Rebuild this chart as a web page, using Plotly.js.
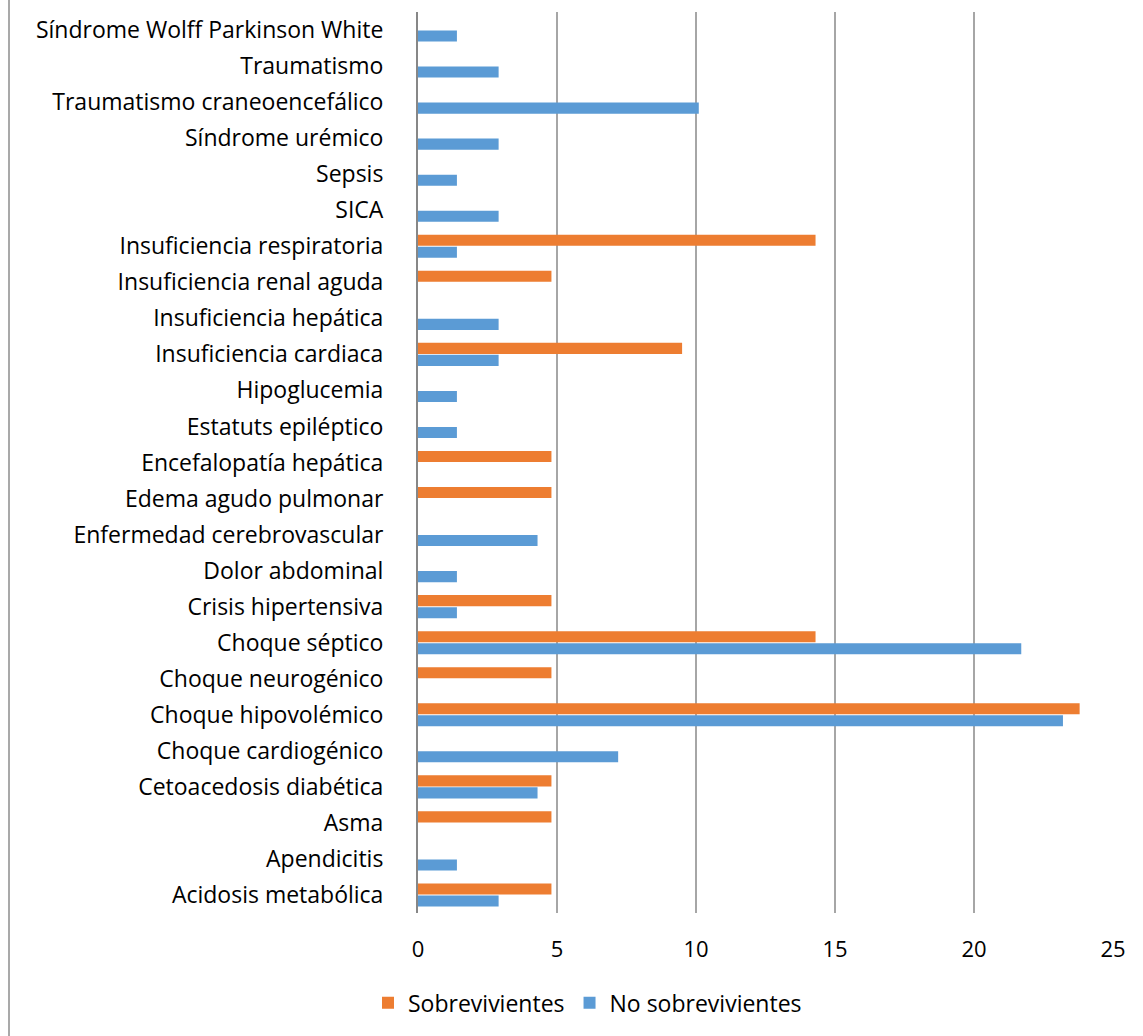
<!DOCTYPE html>
<html>
<head>
<meta charset="utf-8">
<script src="https://cdn.plot.ly/plotly-3.0.1.min.js"></script>
<style>
  html, body { margin: 0; padding: 0; background: #fff; }
  #wrap { position: relative; width: 1143px; height: 1036px; }
  #chart { width: 1143px; height: 1036px; }
  #edge { position: absolute; left: 8px; top: 0; width: 2px; height: 1036px; background: #a9a9a9; }
</style>
</head>
<body>
<div id="wrap">
  <div id="chart"></div>
  <div id="edge"></div>
</div>
<script>
// Categories, bottom to top
const categories = [
  "Acidosis metabólica",
  "Apendicitis",
  "Asma",
  "Cetoacedosis diabética",
  "Choque cardiogénico",
  "Choque hipovolémico",
  "Choque neurogénico",
  "Choque séptico",
  "Crisis hipertensiva",
  "Dolor abdominal",
  "Enfermedad cerebrovascular",
  "Edema agudo pulmonar",
  "Encefalopatía hepática",
  "Estatuts epiléptico",
  "Hipoglucemia",
  "Insuficiencia cardiaca",
  "Insuficiencia hepática",
  "Insuficiencia renal aguda",
  "Insuficiencia respiratoria",
  "SICA",
  "Sepsis",
  "Síndrome urémico",
  "Traumatismo craneoencefálico",
  "Traumatismo",
  "Síndrome Wolff Parkinson White"
];
const sobrevivientes = [4.8, 0, 4.8, 4.8, 0, 23.8, 4.8, 14.3, 4.8, 0, 0, 4.8, 4.8, 0, 0, 9.5, 0, 4.8, 14.3, 0, 0, 0, 0, 0, 0];
const noSobrevivientes = [2.9, 1.4, 0, 4.3, 7.2, 23.2, 0, 21.7, 1.4, 1.4, 4.3, 0, 0, 1.4, 1.4, 2.9, 2.9, 0, 1.4, 2.9, 1.4, 2.9, 10.1, 2.9, 1.4];
const xTicks = [0, 5, 10, 15, 20, 25];

const FONT = "'Open Sans', 'Noto Sans', sans-serif";
const FS = 23;

const traces = [
  {
    type: "bar", orientation: "h", name: "No sobrevivientes",
    y: categories, x: noSobrevivientes,
    marker: { color: "#5B9BD5", line: { width: 0 } },
    legendrank: 2, hoverinfo: "x+y+name"
  },
  {
    type: "bar", orientation: "h", name: "Sobrevivientes",
    y: categories, x: sobrevivientes,
    marker: { color: "#ED7D31", line: { width: 0 } },
    legendrank: 1, hoverinfo: "x+y+name"
  }
];

const layout = {
  width: 1143, height: 1036,
  paper_bgcolor: "#fff", plot_bgcolor: "#fff",
  margin: { l: 418, r: 30, t: 12, b: 123, pad: 0 },
  barmode: "group",
  bargap: 0.333,
  bargroupgap: 0.08,
  font: { family: FONT, size: FS, color: "#000" },
  xaxis: {
    range: [0, 25],
    tickvals: xTicks,
    ticktext: xTicks.map(String),
    showgrid: true, gridcolor: "#a6a6a6", gridwidth: 1.5,
    zeroline: false, showline: false, ticks: "",
    ticklabelstandoff: 21,
    tickfont: { family: FONT, size: 22, color: "#000" },
    fixedrange: true
  },
  yaxis: {
    type: "category",
    categoryorder: "array", categoryarray: categories,
    showgrid: false, zeroline: false,
    showline: true, linecolor: "#878787", linewidth: 2,
    ticks: "", ticklabelstandoff: 28,
    tickfont: { family: FONT, size: FS, color: "#000" },
    fixedrange: true
  },
  showlegend: true,
  legend: {
    orientation: "h",
    xref: "container", yref: "container",
    x: 0.514, xanchor: "center",
    y: 0.032, yanchor: "middle",
    font: { family: FONT, size: FS, color: "#000" },
    itemwidth: 30,
    bgcolor: "rgba(0,0,0,0)"
  }
};

Plotly.newPlot("chart", traces, layout, { displayModeBar: false, staticPlot: true });
</script>
</body>
</html>
